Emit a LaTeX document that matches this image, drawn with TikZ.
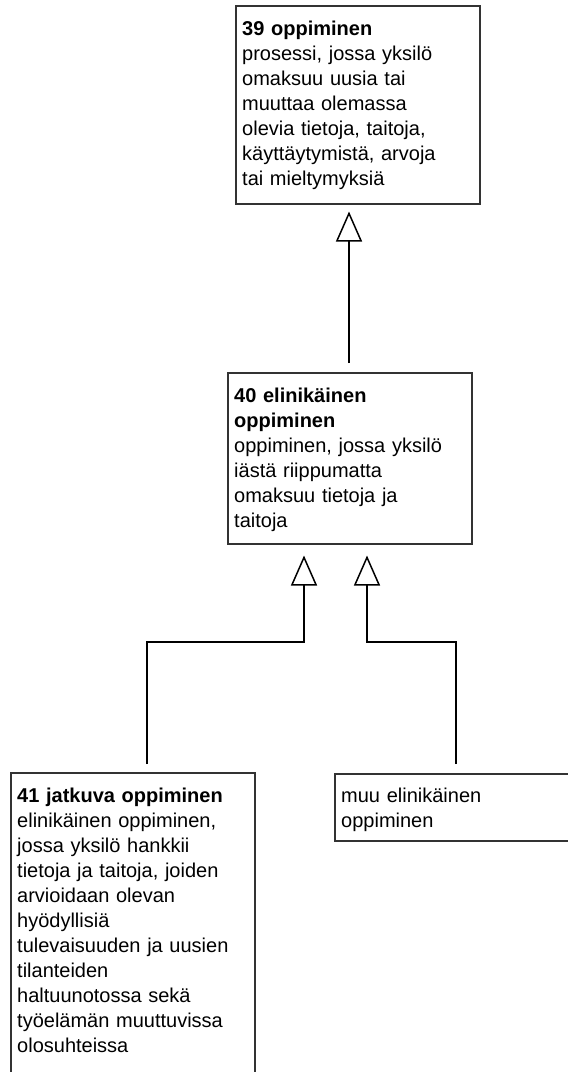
\documentclass[tikz,border=0pt]{standalone}
\usepackage{fontspec}
\setmainfont{Liberation Sans}
\usetikzlibrary{arrows.meta}
\definecolor{boxline}{RGB}{51,51,51}
\tikzset{
  x=1pt, y=1pt,
  box/.style={draw=boxline, line width=1.5pt, fill=white, minimum width=244pt, anchor=north west, inner sep=0pt},
  txt/.style={anchor=base west, inner sep=0pt, text width=236pt, align=left, font=\fontsize{20}{25}\selectfont},
  inh/.style={draw=black, line width=1.5pt, -{Triangle[open, width=26pt, length=30pt, line width=1.5pt]}}
}
\begin{document}
\begin{tikzpicture}
\useasboundingbox (0,0) rectangle (568,-1072);
\clip (0,0) rectangle (568,-1072);
\fill[white] (0,0) rectangle (568,-1072);
% boxes
\node[box, minimum height=198pt] (b1) at (235,-5) {};
\node[box, minimum height=171pt] (b2) at (227,-372) {};
\node[box, minimum height=320pt] (b3) at (10,-772) {};
\node[box, minimum height=67pt] (b4) at (334,-773) {};
% texts
\node[txt] (t1) at (242,-35) {\textbf{39 oppiminen}\\prosessi, jossa yksilö\\omaksuu uusia tai\\muuttaa olemassa\\olevia tietoja, taitoja,\\käyttäytymistä, arvoja\\tai mieltymyksiä};
\node[txt] (t2) at (234,-402) {\textbf{40 elinikäinen}\\\textbf{oppiminen}\\oppiminen, jossa yksilö\\iästä riippumatta\\omaksuu tietoja ja\\taitoja};
\node[txt] (t3) at (17,-802) {\textbf{41 jatkuva oppiminen}\\elinikäinen oppiminen,\\jossa yksilö hankkii\\tietoja ja taitoja, joiden\\arvioidaan olevan\\hyödyllisiä\\tulevaisuuden ja uusien\\tilanteiden\\haltuunotossa sekä\\työelämän muuttuvissa\\olosuhteissa};
\node[txt] (t4) at (341,-802) {muu elinikäinen\\oppiminen};
% connectors
\draw[inh] ([shift={(122,9)}]b2.north west) -- ([shift={(114,-7)}]b1.south west);
\draw[inh] ([shift={(137,8)}]b3.north west) -- ++(0,122) -| ([shift={(77,-11)}]b2.south west);
\draw[inh] ([shift={(122,9)}]b4.north west) -- ++(0,122) -| ([shift={(140,-11)}]b2.south west);
\end{tikzpicture}
\end{document}
